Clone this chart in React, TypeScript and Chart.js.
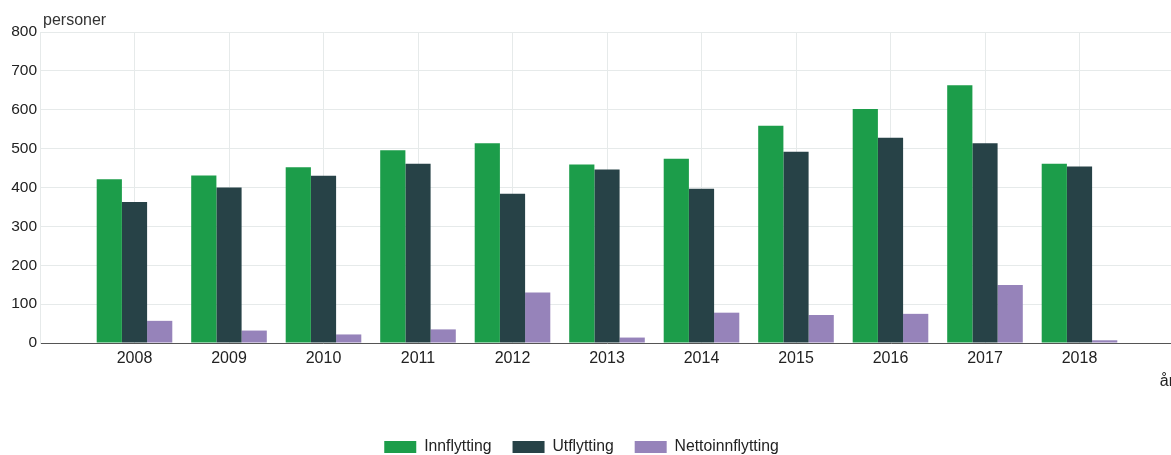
import React, { useEffect, useRef } from "react";
import { Chart, registerables } from "chart.js";

Chart.register(...registerables);

const years = ["2008", "2009", "2010", "2011", "2012", "2013", "2014", "2015", "2016", "2017", "2018"];
const innflytting = [421, 431, 452, 496, 514, 459, 474, 559, 602, 663, 461];
const utflytting = [363, 400, 430, 461, 384, 446, 397, 492, 528, 514, 454];
const nettoinnflytting = [57, 32, 22, 35, 130, 14, 78, 72, 75, 149, 7];
const yTicks = [0, 100, 200, 300, 400, 500, 600, 700, 800];

const FONT = "Liberation Sans";
const TEXT = "#222";

const yTitlePlugin = {
  id: "yTitleTop",
  afterDraw(chart: any) {
    const { ctx, chartArea } = chart;
    ctx.save();
    ctx.font = `16px "${FONT}"`;
    ctx.fillStyle = "#333";
    ctx.textAlign = "left";
    ctx.textBaseline = "alphabetic";
    ctx.fillText("personer", chartArea.left + 3, chartArea.top - 7);
    ctx.restore();
  },
};

const legendPlace = {
  id: "legendPlace",
  afterLayout(chart: any) {
    const lg = chart.legend;
    if (!lg) return;
    const dx = 581.5 - (lg.left + lg.right) / 2;
    lg.left += dx;
    lg.right += dx;
    const dy = 418 - lg.top;
    lg.top += dy;
    lg.bottom += dy;
  },
};

export default function App() {
  const ref = useRef<HTMLCanvasElement>(null);
  useEffect(() => {
    const labels = ["", ...years, ""];
    const pad = (a: number[]) => [null, ...a, null];
    const chart = new Chart(ref.current!, {
      type: "bar",
      data: {
        labels,
        datasets: [
          { label: "Innflytting", data: pad(innflytting), backgroundColor: "#1c9d4a", borderWidth: 0 },
          { label: "Utflytting", data: pad(utflytting), backgroundColor: "#274247", borderWidth: 0 },
          { label: "Nettoinnflytting", data: pad(nettoinnflytting), backgroundColor: "#9683ba", borderWidth: 0 },
        ],
      },
      options: {
        animation: false,
        responsive: false,
        maintainAspectRatio: false,
        devicePixelRatio: 1,
        datasets: { bar: { categoryPercentage: 0.8, barPercentage: 1.0 } },
        layout: { padding: { left: 9, right: 4, top: 32, bottom: 5.25 } },
        plugins: {
          tooltip: { enabled: false },
          legend: {
            position: "bottom",
            labels: {
              boxWidth: 32,
              boxHeight: 12,
              padding: 21,
              color: TEXT,
              font: { family: FONT, size: 15.75 },
            },
          },
        },
        scales: {
          x: {
            offset: false,
            grid: { offset: false, color: "#e6eaea", drawTicks: false },
            border: { color: "#555", width: 1 },
            ticks: { color: TEXT, font: { family: FONT, size: 16 }, padding: 6, maxRotation: 0, autoSkip: false },
            title: {
              display: true,
              text: "år",
              align: "end",
              color: TEXT,
              font: { family: FONT, size: 16 },
              padding: { top: 4, bottom: 12 },
            },
            afterFit(s: any) {
              s.height = 60;
            },
          },
          y: {
            min: 0,
            max: 800,
            afterBuildTicks(s: any) {
              s.ticks = yTicks.map((v) => ({ value: v }));
            },
            grid: { color: "#e6eaea", drawTicks: false },
            border: { color: "#e6eaea" },
            ticks: { color: TEXT, font: { family: FONT, size: 15.5 }, padding: 3 },
            afterFit(s: any) {
              s.width = 31;
            },
          },
        },
      },
      plugins: [yTitlePlugin, legendPlace],
    });
    return () => chart.destroy();
  }, []);
  return (
    <div style={{ position: "fixed", left: 0, top: 0, width: "100vw", height: "100vh", overflow: "hidden", background: "#fff" }}>
      <canvas ref={ref} width={1180} height={455} style={{ display: "block" }} />
    </div>
  );
}
